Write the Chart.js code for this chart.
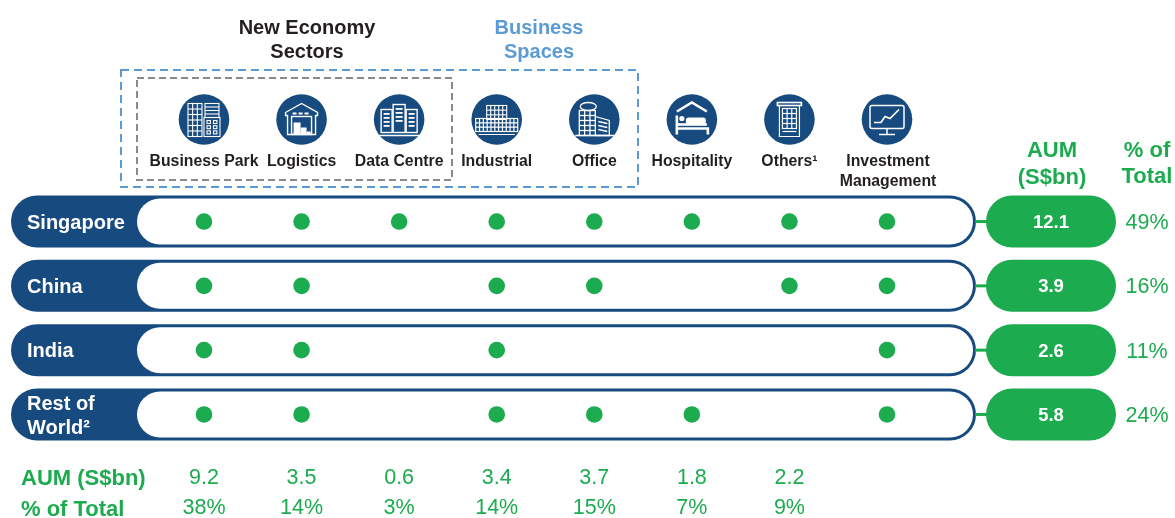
<!DOCTYPE html>
<html>
<head>
<meta charset="utf-8">
<title>AUM by sector and geography</title>
<script src="https://cdn.jsdelivr.net/npm/chart.js@4/dist/chart.umd.min.js"></script>
<style>
  html, body { margin: 0; padding: 0; background: #fff; }
  canvas { display: block; }
</style>
</head>
<body>
<canvas id="matrixChart" width="1175" height="518"></canvas>
<script>
// data
const sectors = ["Business Park", "Logistics", "Data Centre", "Industrial", "Office", "Hospitality", "Others¹", "Investment Management"];
const regions = ["Singapore", "China", "India", "Rest of World²"];

const singaporeSectors = ["Business Park", "Logistics", "Data Centre", "Industrial", "Office", "Hospitality", "Others¹", "Investment Management"];
const chinaSectors = ["Business Park", "Logistics", "Industrial", "Office", "Others¹", "Investment Management"];
const indiaSectors = ["Business Park", "Logistics", "Industrial", "Investment Management"];
const restSectors = ["Business Park", "Logistics", "Industrial", "Office", "Hospitality", "Investment Management"];

const regionAum = ["12.1", "3.9", "2.6", "5.8"];
const regionPct = ["49%", "16%", "11%", "24%"];
const sectorAum = ["9.2", "3.5", "0.6", "3.4", "3.7", "1.8", "2.2"];
const sectorPct = ["38%", "14%", "3%", "14%", "15%", "7%", "9%"];

const NAVY = "#174a7e";
const GREEN = "#1cab4f";
const LIGHT_BLUE = "#5b9bd5";
const GREY = "#8a8a8a";
const DARK = "#231f20";
const FONT = '"Liberation Sans", Arial, sans-serif';

function toPoints(region, list) {
  return list.map(s => ({ x: s, y: region }));
}

function text(ctx, str, x, y, font, color, align) {
  ctx.font = font + " " + FONT;
  ctx.fillStyle = color;
  ctx.textAlign = align || "center";
  ctx.textBaseline = "middle";
  ctx.fillText(str, x, y + 1.5);
}

function pill(ctx, x, y, w, h, r, color) {
  ctx.beginPath();
  ctx.roundRect(x, y, w, h, r);
  ctx.fillStyle = color;
  ctx.fill();
}

function dashedBox(ctx, x, y, w, h, color, dash) {
  ctx.save();
  ctx.strokeStyle = color;
  ctx.lineWidth = 2;
  ctx.setLineDash(dash);
  ctx.strokeRect(x, y, w, h);
  ctx.restore();
}

// --- small white line icons, drawn round 0,0 inside a navy circle ---
function poly(ctx, pts, close) {
  ctx.beginPath();
  pts.forEach((p, i) => i ? ctx.lineTo(p[0], p[1]) : ctx.moveTo(p[0], p[1]));
  if (close) ctx.closePath();
  ctx.stroke();
}

function grid(ctx, x, y, w, h, cols, rows) {
  ctx.strokeRect(x, y, w, h);
  for (let i = 1; i < cols; i++) poly(ctx, [[x + w * i / cols, y], [x + w * i / cols, y + h]]);
  for (let j = 1; j < rows; j++) poly(ctx, [[x, y + h * j / rows], [x + w, y + h * j / rows]]);
}

const icons = {
  "Business Park"(ctx) {
    grid(ctx, -16, -16, 14, 33, 3, 6);
    ctx.strokeRect(1, -16, 14, 14);
    for (let j = 1; j < 4; j++) poly(ctx, [[1, -16 + j * 3.5], [15, -16 + j * 3.5]]);
    ctx.strokeRect(0, -2, 16, 19);
    for (let j = 0; j < 3; j++) {
      ctx.strokeRect(3, 1 + j * 5.2, 3.4, 3);
      ctx.strokeRect(9.5, 1 + j * 5.2, 3.4, 3);
    }
  },
  "Logistics"(ctx) {
    ctx.lineWidth = 1.4;
    poly(ctx, [[-16, -7], [0, -16], [16, -7], [16, -4], [14, -4], [14, 15], [-14, 15], [-14, -4], [-16, -4]], true);
    ctx.strokeRect(-10, -3, 20, 18);
    ctx.fillStyle = "#fff";
    [-9, -3, 3].forEach(x => ctx.fillRect(x, -7, 4, 2));
    ctx.fillRect(-8, 3, 7, 12);
    ctx.fillRect(-1, 8, 6, 7);
    ctx.fillRect(5, 12, 4, 3);
  },
  "Data Centre"(ctx) {
    ctx.lineWidth = 1.4;
    ctx.fillStyle = "#fff";
    [[-18, -10, 11, 23], [-6, -15, 12, 28], [7, -10, 11, 23]].forEach(b => {
      ctx.strokeRect(b[0], b[1], b[2], b[3]);
      for (let j = 0; j < 4; j++) ctx.fillRect(b[0] + 2.5, b[1] + 3.5 + j * 4, b[2] - 5, 1.8);
    });
    poly(ctx, [[-20, 16], [20, 16]]);
  },
  "Industrial"(ctx) {
    grid(ctx, -10, -14, 20, 14, 5, 3);
    ctx.lineWidth = 1.2;
    grid(ctx, -21, -1, 42, 13, 11, 3);
    poly(ctx, [[-18, 15], [18, 15]]);
  },
  "Office"(ctx) {
    ctx.lineWidth = 1.3;
    ctx.beginPath();
    ctx.ellipse(-6, -13, 8, 4, 0, 0, Math.PI * 2);
    ctx.stroke();
    grid(ctx, -15, -9, 16, 25, 3, 5);
    poly(ctx, [[1, -3], [15, 1], [15, 16], [1, 16]]);
    for (let j = 0; j < 3; j++) poly(ctx, [[4, 2 + j * 4], [13, 4 + j * 4]]);
    poly(ctx, [[-19, 16], [20, 16]]);
  },
  "Hospitality"(ctx) {
    ctx.lineWidth = 2.6;
    poly(ctx, [[-15, -8], [0, -17], [15, -8]]);
    poly(ctx, [[-15, -4], [-15, 15]]);
    poly(ctx, [[-15, 9], [16, 9], [16, 15]]);
    poly(ctx, [[-15, 5], [15, 5]]);
    ctx.fillStyle = "#fff";
    ctx.beginPath();
    ctx.arc(-10, -1, 2.6, 0, Math.PI * 2);
    ctx.fill();
    ctx.beginPath();
    ctx.roundRect(-6, -2, 20, 7, 3);
    ctx.fill();
  },
  "Others¹"(ctx) {
    ctx.lineWidth = 1.6;
    ctx.strokeRect(-12, -17, 24, 3);
    ctx.lineWidth = 1.2;
    poly(ctx, [[-10, -14], [-10, 17], [10, 17], [10, -14]]);
    grid(ctx, -7, -11, 14, 20, 3, 4);
    poly(ctx, [[-7, 12], [7, 12]]);
  },
  "Investment Management"(ctx) {
    ctx.lineWidth = 1.5;
    ctx.beginPath();
    ctx.roundRect(-17, -14, 34, 23, 2);
    ctx.stroke();
    poly(ctx, [[0, 9], [0, 15]]);
    poly(ctx, [[-8, 15], [8, 15]]);
    ctx.lineWidth = 1.7;
    poly(ctx, [[-13, 3], [-6, 3], [-2, -3], [3, -1], [12, -10]]);
  }
};

const matrixPlugin = {
  id: "matrix",
  beforeDatasetsDraw(chart) {
    const { ctx, scales: { x, y } } = chart;
    ctx.save();

    // row bands and AUM pills
    regions.forEach((r, i) => {
      const cy = y.getPixelForValue(i);
      pill(ctx, 11, cy - 26, 965, 52, 26, NAVY);
      pill(ctx, 137, cy - 23, 836, 46, 23, "#fff");
      ctx.strokeStyle = GREEN;
      ctx.lineWidth = 3;
      poly(ctx, [[975, cy], [990, cy]]);
      pill(ctx, 986, cy - 26, 130, 52, 26, GREEN);
    });

    dashedBox(ctx, 121, 70, 517, 117, LIGHT_BLUE, [8, 5]);
    dashedBox(ctx, 137, 78, 315, 102, GREY, [7, 4]);

    // header icons
    sectors.forEach((s, i) => {
      const cx = x.getPixelForValue(i);
      ctx.save();
      ctx.translate(cx, 119.5);
      ctx.beginPath();
      ctx.arc(0, 0, 25.3, 0, Math.PI * 2);
      ctx.fillStyle = NAVY;
      ctx.fill();
      ctx.strokeStyle = "#fff";
      ctx.lineWidth = 1.1;
      icons[s](ctx);
      ctx.restore();
    });
    ctx.restore();
  },
  afterDatasetsDraw(chart) {
    const { ctx, scales: { x, y } } = chart;
    ctx.save();

    text(ctx, "New Economy", 307, 27, "bold 20px", DARK);
    text(ctx, "Sectors", 307, 51, "bold 20px", DARK);
    text(ctx, "Business", 539, 27, "bold 20px", LIGHT_BLUE);
    text(ctx, "Spaces", 539, 51, "bold 20px", LIGHT_BLUE);

    sectors.forEach((s, i) => {
      const cx = x.getPixelForValue(i);
      if (s === "Investment Management") {
        text(ctx, "Investment", cx + 1, 160.5, "bold 15.8px", DARK);
        text(ctx, "Management", cx + 1, 180.5, "bold 15.8px", DARK);
      } else {
        text(ctx, s, cx, 160.5, "bold 15.8px", DARK);
      }
    });

    text(ctx, "AUM", 1052, 149, "bold 22px", GREEN);
    text(ctx, "(S$bn)", 1052, 176.5, "bold 22px", GREEN);
    text(ctx, "% of", 1147, 149, "bold 22px", GREEN);
    text(ctx, "Total", 1147, 175.5, "bold 22px", GREEN);

    regions.forEach((r, i) => {
      const cy = y.getPixelForValue(i);
      const parts = r === "Rest of World²" ? ["Rest of", "World²"] : [r];
      if (parts.length === 2) {
        text(ctx, parts[0], 27, cy - 11, "bold 20px", "#fff", "left");
        text(ctx, parts[1], 27, cy + 13, "bold 20px", "#fff", "left");
      } else {
        text(ctx, r, 27, cy, "bold 20px", "#fff", "left");
      }
      text(ctx, regionAum[i], 1051, cy, "bold 18.5px", "#fff");
      text(ctx, regionPct[i], 1147, cy, "21.5px", GREEN);
    });

    text(ctx, "AUM (S$bn)", 21, 477, "bold 22px", GREEN, "left");
    text(ctx, "% of Total", 21, 508, "bold 22px", GREEN, "left");
    sectorAum.forEach((v, i) => {
      const cx = x.getPixelForValue(i);
      text(ctx, v, cx, 477, "21.5px", GREEN);
      text(ctx, sectorPct[i], cx, 507, "21.5px", GREEN);
    });
    ctx.restore();
  }
};

new Chart(document.getElementById("matrixChart"), {
  type: "scatter",
  data: {
    datasets: [{
      data: [
        ...toPoints(regions[0], singaporeSectors),
        ...toPoints(regions[1], chinaSectors),
        ...toPoints(regions[2], indiaSectors),
        ...toPoints(regions[3], restSectors)
      ],
      pointRadius: 8.3,
      pointHoverRadius: 8.3,
      pointBackgroundColor: GREEN,
      pointBorderWidth: 0
    }]
  },
  options: {
    responsive: false,
    animation: false,
    layout: { padding: { left: 155.2, right: 239.2, top: 189.4, bottom: 71.4 } },
    scales: {
      x: { type: "category", labels: sectors, offset: true, display: false },
      y: { type: "category", labels: regions, offset: true, display: false }
    },
    plugins: { legend: { display: false }, tooltip: { enabled: false } }
  },
  plugins: [matrixPlugin]
});
</script>
</body>
</html>
